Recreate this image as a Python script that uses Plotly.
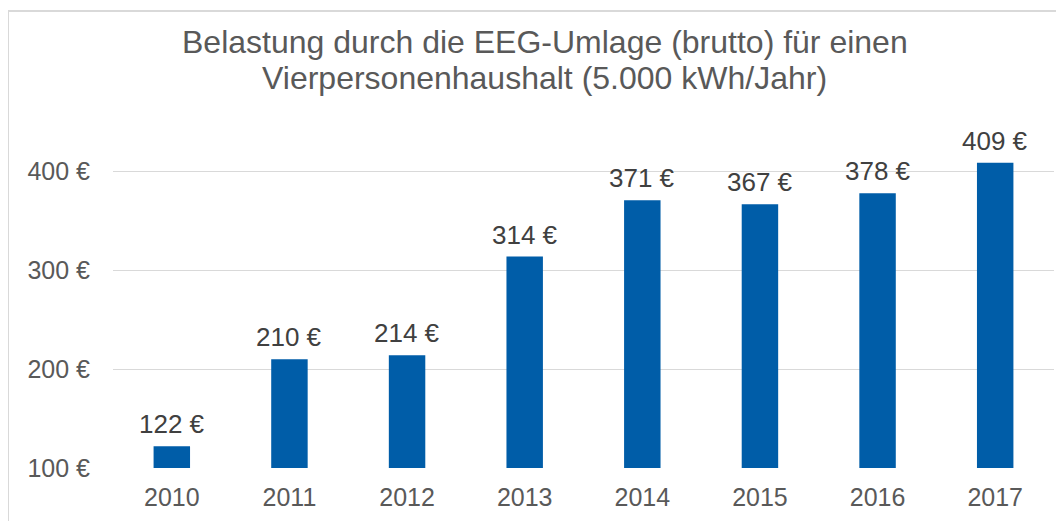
import plotly.graph_objects as go

years = ["2010", "2011", "2012", "2013", "2014", "2015", "2016", "2017"]
umlage = [122, 210, 214, 314, 371, 367, 378, 409]
y_ticks = [100, 200, 300, 400]
y_tick_labels = [f"{v} €" for v in y_ticks]

title_lines = ["Belastung durch die EEG-Umlage (brutto) für einen",
               "Vierpersonenhaushalt (5.000 kWh/Jahr)"]

fig = go.Figure(go.Bar(
    x=years,
    y=umlage,
    marker_color="#005DA8",
    marker_line_width=0,
    hovertemplate="%{x}: %{y} €<extra></extra>",
))

# value labels above the bars (category axis: numeric-looking strings are
# read as indices, so pass the category index)
annotations = [{
    "x": i, "y": v, "xref": "x", "yref": "y", "text": f"{v} €",
    "showarrow": False, "yanchor": "bottom", "yshift": 5,
    "font": {"size": 26, "color": "#404040"},
} for i, v in enumerate(umlage)]

# two-line title, tighter line spacing than plotly's default
for text, ypos in zip(title_lines, [1.268, 1.161]):
    annotations.append({
        "text": text, "xref": "paper", "yref": "paper",
        "x": 0.459, "y": ypos, "xanchor": "center", "yanchor": "middle",
        "showarrow": False,
        "font": {"size": 32, "color": "#595959"},
    })

# page body has an 8px margin, so the figure is sized to the visible area
fig.update_layout(
    width=1056,
    height=513,
    font={"family": "Liberation Sans, Arial, sans-serif", "color": "#595959"},
    bargap=0.69,
    xaxis={"type": "category", "tickfont": {"size": 25}, "showline": False,
           "ticks": "", "ticklabelstandoff": 12},
    yaxis={
        "range": [100, 440],
        "tickvals": y_ticks,
        "ticktext": y_tick_labels,
        "tickfont": {"size": 25},
        "showgrid": True,
        "gridcolor": "#D9D9D9",
        "zeroline": False,
        "ticklabelstandoff": 22,
    },
    margin={"l": 105, "r": 10, "t": 124, "b": 53},
    plot_bgcolor="white",
    paper_bgcolor="white",
    showlegend=False,
    annotations=annotations,
    shapes=[{
        "type": "rect", "xref": "paper", "yref": "paper",
        "x0": -0.1116, "x1": 1.2, "y0": -0.3, "y1": 1.36,
        "line": {"color": "#D9D9D9", "width": 2},
        "layer": "below",
    }],
)

fig.write_html("out.html")
